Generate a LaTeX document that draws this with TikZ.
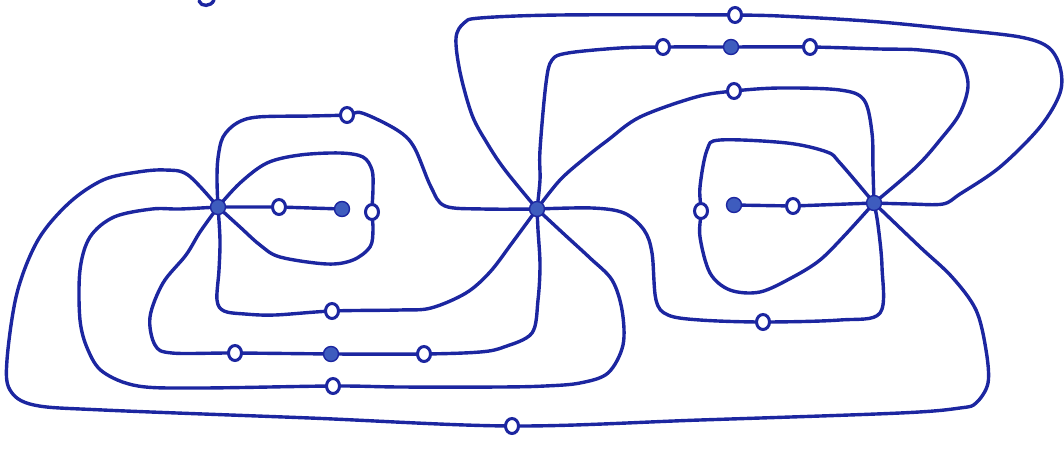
\documentclass[tikz,border=0pt]{standalone}
\usepackage{xcolor}
\usepackage{tikz}
\usetikzlibrary{shapes.geometric,backgrounds}
\definecolor{ink}{RGB}{28,38,160}
\definecolor{inkfill}{RGB}{62,92,190}

\begin{document}
\begin{tikzpicture}[x=1pt, y=-1pt,
    hub/.style={circle, draw=ink, line width=1.4pt, fill=inkfill, minimum size=15pt, inner sep=0pt},
    ring/.style={ellipse, draw=ink, line width=3pt, fill=white, minimum width=13pt, minimum height=15pt, inner sep=0pt},
    wire/.style={draw=ink, line width=3.4pt, line cap=round, line join=round}]
  \useasboundingbox (0,0) rectangle (1064,450);

  % filled vertices
  \node[hub] (hubl) at (218,207) {};
  \node[hub] (hubm) at (537,209) {};
  \node[hub] (hubr) at (874,203) {};
  \node[hub] (leafl) at (342,209) {};
  \node[hub] (leafr) at (734,205) {};
  \node[hub] (dotb) at (331,354) {};
  \node[hub] (dott) at (731,47) {};

  % hollow points on the edges
  \node[ring] (pad) at (279,207) {};
  \node[ring] (paa) at (372,212) {};
  \node[ring] (pab1) at (347,115) {};
  \node[ring] (pab2) at (332,311) {};
  \node[ring] (paf) at (235,353) {};
  \node[ring] (pfb) at (424,354) {};
  \node[ring] (pab3) at (333,386) {};
  \node[ring] (pac) at (512,426) {};
  \node[ring] (pbc1) at (735,15) {};
  \node[ring] (pbg) at (663,47) {};
  \node[ring] (pgc) at (810,47) {};
  \node[ring] (pbc2) at (734,91) {};
  \node[ring] (pcc) at (701,211) {};
  \node[ring] (pce) at (793,206) {};
  \node[ring] (pbc3) at (763,322) {};

  \begin{pgfonlayer}{background}
    % left hub
    \path[wire] (hubl) -- (pad) -- (leafl);
    \path[wire] plot[smooth, tension=0.55] coordinates {(hubl.center) (240,183) (267,163) (300,155) (340,153) (363,157) (372,170) (373,188) (paa.center) (373,230) (370,247) (353,260) (327,264) (280,257) (260,245) (240,227) (hubl.center)};
    \path[wire] plot[smooth, tension=0.55] coordinates {(hubl.center) (217,180) (218,158) (223,137) (237,123) (258,117) (310,116) (pab1.center) (362,113) (397,130) (414,147) (431,187) (445,206) (483,209) (hubm.center)};
    \path[wire] plot[smooth, tension=0.55] coordinates {(hubl.center) (188,175) (165,170) (138,172) (103,180) (69,203) (38,240) (17,293) (7,360) (10,390) (34,405) (103,410) (310,418) (pac.center) (700,420) (900,413) (960,408) (976,403) (988,383) (986,350) (976,310) (952,277) (920,247) (hubr.center)};
    \path[wire] plot[smooth, tension=0.55] coordinates {(hubl.center) (180,209) (152,209) (114,217) (90,237) (80,270) (80,320) (88,350) (103,372) (138,386) (200,388) (pab3.center) (400,387) (500,387) (545,386) (580,383) (608,373) (623,345) (622,310) (612,280) (590,258) (565,235) (hubm.center)};
    \path[wire] plot[smooth, tension=0.55] coordinates {(hubl.center) (200,232) (186,255) (163,283) (150,317) (155,345) (172,353) (paf.center) (dotb.center)};
    \path[wire] plot[smooth, tension=0.55] coordinates {(dotb.center) (pfb.center) (480,352) (504,347) (532,333) (538,300) (540,265) (538,230) (hubm.center)};
    \path[wire] plot[smooth, tension=0.55] coordinates {(hubl.center) (220,240) (219,270) (217,300) (224,311) (245,314) (275,315) (pab2.center) (400,310) (431,308) (466,293) (490,272) (512,243) (hubm.center)};
    % middle hub
    \path[wire] plot[smooth, tension=0.55] coordinates {(hubm.center) (505,170) (487,143) (472,115) (460,72) (456,38) (464,23) (480,18) (560,15) (pbc1.center) (800,17) (880,22) (960,30) (1020,37) (1048,47) (1060,67) (1060,93) (1040,127) (1000,167) (960,194) (943,204) (910,204) (hubr.center)};
    \path[wire] plot[smooth, tension=0.55] coordinates {(hubm.center) (540,180) (540,150) (546,83) (552,60) (568,53) (620,48) (pbg.center) (dott.center)};
    \path[wire] plot[smooth, tension=0.55] coordinates {(dott.center) (pgc.center) (880,49) (920,50) (956,57) (968,83) (960,113) (940,140) (916,167) (hubr.center)};
    \path[wire] plot[smooth, tension=0.55] coordinates {(hubm.center) (560,180) (585,158) (608,140) (640,117) (696,97) (pbc2.center) (780,88) (840,90) (864,100) (872,133) (873,170) (hubr.center)};
    \path[wire] plot[smooth, tension=0.55] coordinates {(hubm.center) (592,208) (624,213) (644,230) (652,253) (656,300) (668,315) (700,320) (pbc3.center) (840,320) (880,313) (882,267) (878,225) (hubr.center)};
    % right hub
    \path[wire] (hubr) -- (pce) -- (leafr);
    \path[wire] plot[smooth, tension=0.55] coordinates {(hubr.center) (840,163) (827,152) (787,143) (720,140) (707,150) (700,187) (pcc.center) (700,237) (710,273) (730,290) (760,292) (793,277) (820,260) (845,235) (hubr.center)};
    % cut-off mark at the top
    \path[wire] (199,1) .. controls (201,7) and (211,7) .. (214,0);
  \end{pgfonlayer}
\end{tikzpicture}
\end{document}
